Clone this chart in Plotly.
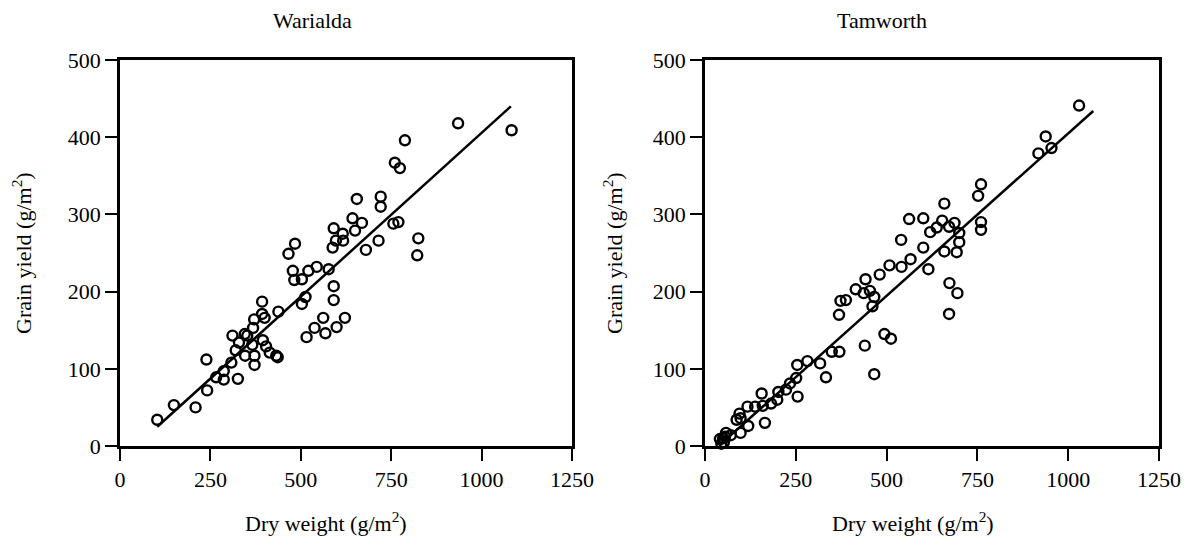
import plotly.graph_objects as go

# ---- Data ----
war_dw = [103, 149, 209, 239, 241, 266, 287, 287, 308, 326, 311, 320, 329, 345, 346, 352, 366, 368,
          371, 372, 372, 393, 393, 395, 400, 404, 414, 436, 432, 438, 466, 484, 478, 482, 503, 521,
          544, 503, 513, 516, 538, 562, 568, 577, 591, 591, 588, 591, 597, 599, 622, 616, 617, 643,
          650, 655, 669, 680, 715, 721, 721, 756, 770, 760, 774, 788, 822, 825, 935, 1083]
war_gy = [34, 53, 50, 112, 72, 89, 86, 97, 108, 87, 143, 124, 134, 145, 117, 143, 131, 153,
          164, 117, 105, 187, 171, 137, 166, 129, 121, 115, 117, 174, 249, 262, 227, 215, 216, 227,
          232, 184, 193, 141, 153, 166, 146, 229, 207, 189, 257, 282, 266, 154, 166, 275, 266, 295,
          279, 320, 289, 254, 266, 323, 310, 288, 290, 367, 360, 396, 247, 269, 418, 409]
war_fit_x = [103, 1081]
war_fit_y = [25, 440]

tam_dw = [41, 50, 58, 71, 52, 45, 55, 87, 95, 98, 98, 117, 119, 138, 156, 159, 165, 182, 199, 202,
          223, 234, 251, 254, 255, 282, 317, 333, 349, 370, 369, 373, 388, 440, 415, 442, 437, 454,
          461, 466, 466, 494, 512, 481, 508, 540, 541, 566, 562, 601, 601, 615, 620, 638, 653, 659,
          672, 687, 700, 700, 693, 659, 673, 695, 672, 752, 760, 760, 760, 918, 938, 954, 1030]
tam_gy = [9, 10, 17, 14, 5, 3, 12, 34, 42, 36, 17, 51, 26, 51, 68, 52, 30, 55, 60, 70,
          73, 81, 88, 105, 64, 110, 107, 89, 122, 122, 170, 188, 189, 130, 203, 216, 198, 201,
          181, 193, 93, 145, 139, 222, 234, 267, 232, 242, 294, 295, 257, 229, 277, 283, 292, 314,
          284, 289, 276, 264, 251, 252, 211, 198, 171, 324, 339, 290, 280, 379, 401, 386, 441]
tam_fit_x = [45, 1069]
tam_fit_y = [3, 434]

x_ticks = [0, 250, 500, 750, 1000, 1250]
y_ticks = [0, 100, 200, 300, 400, 500]
titles = ["Warialda", "Tamworth"]
x_title = "Dry weight (g/m<sup>2</sup>)"
y_title = "Grain yield (g/m<sup>2</sup>)"

FONT = "Liberation Serif"
marker = dict(symbol="circle-open", size=10, color="black", line=dict(width=2.4, color="black"))

fig = go.Figure()
for i, (dx, gy, fx, fy) in enumerate([(war_dw, war_gy, war_fit_x, war_fit_y),
                                       (tam_dw, tam_gy, tam_fit_x, tam_fit_y)]):
    xa = "x" if i == 0 else "x2"
    ya = "y" if i == 0 else "y2"
    fig.add_trace(go.Scatter(x=fx, y=fy, mode="lines", line=dict(color="black", width=2.5),
                             xaxis=xa, yaxis=ya, showlegend=False, cliponaxis=False))
    fig.add_trace(go.Scatter(x=dx, y=gy, mode="markers", marker=marker,
                             xaxis=xa, yaxis=ya, showlegend=False, cliponaxis=False))

W, H = 1198, 549
def px_x(p):
    return p / W
def px_y(p):
    return 1 - p / H

ydom = [px_y(446), px_y(60)]
axis_common = dict(showline=True, linecolor="black", linewidth=2.5, mirror=True,
                   ticks="outside", ticklen=12, tickwidth=2, tickcolor="black",
                   showgrid=False, zeroline=False, automargin=False,
                   tickfont=dict(family=FONT, size=22, color="black"))

fig.update_layout(
    template="none",
    width=W, height=H,
    autosize=False,
    margin=dict(l=0, r=0, t=0, b=0, pad=0, autoexpand=False),
    font=dict(family=FONT, size=22, color="black"),
    paper_bgcolor="white", plot_bgcolor="white",
    xaxis=dict(domain=[px_x(120), px_x(572)], range=[0, 1250], tickvals=x_ticks,
               anchor="y", **axis_common),
    yaxis=dict(domain=ydom, range=[0, 500], tickvals=y_ticks, anchor="x", **axis_common),
    xaxis2=dict(domain=[px_x(705), px_x(1159)], range=[0, 1250], tickvals=x_ticks,
                anchor="y2", **axis_common),
    yaxis2=dict(domain=ydom, range=[0, 500], tickvals=y_ticks, anchor="x2", **axis_common),
)

ann_font = dict(family=FONT, size=22, color="black")
annos = [
    (312, 20, titles[0], 0),
    (882, 20, titles[1], 0),
    (326, 522, x_title, 0),
    (913, 522, x_title, 0),
    (22, 253, y_title, -90),
    (613, 253, y_title, -90),
]
for x, y, t, ang in annos:
    fig.add_annotation(x=px_x(x), y=px_y(y), xref="paper", yref="paper", text=t,
                       showarrow=False, textangle=ang, font=ann_font,
                       xanchor="center", yanchor="middle")

fig.write_html("out.html")
